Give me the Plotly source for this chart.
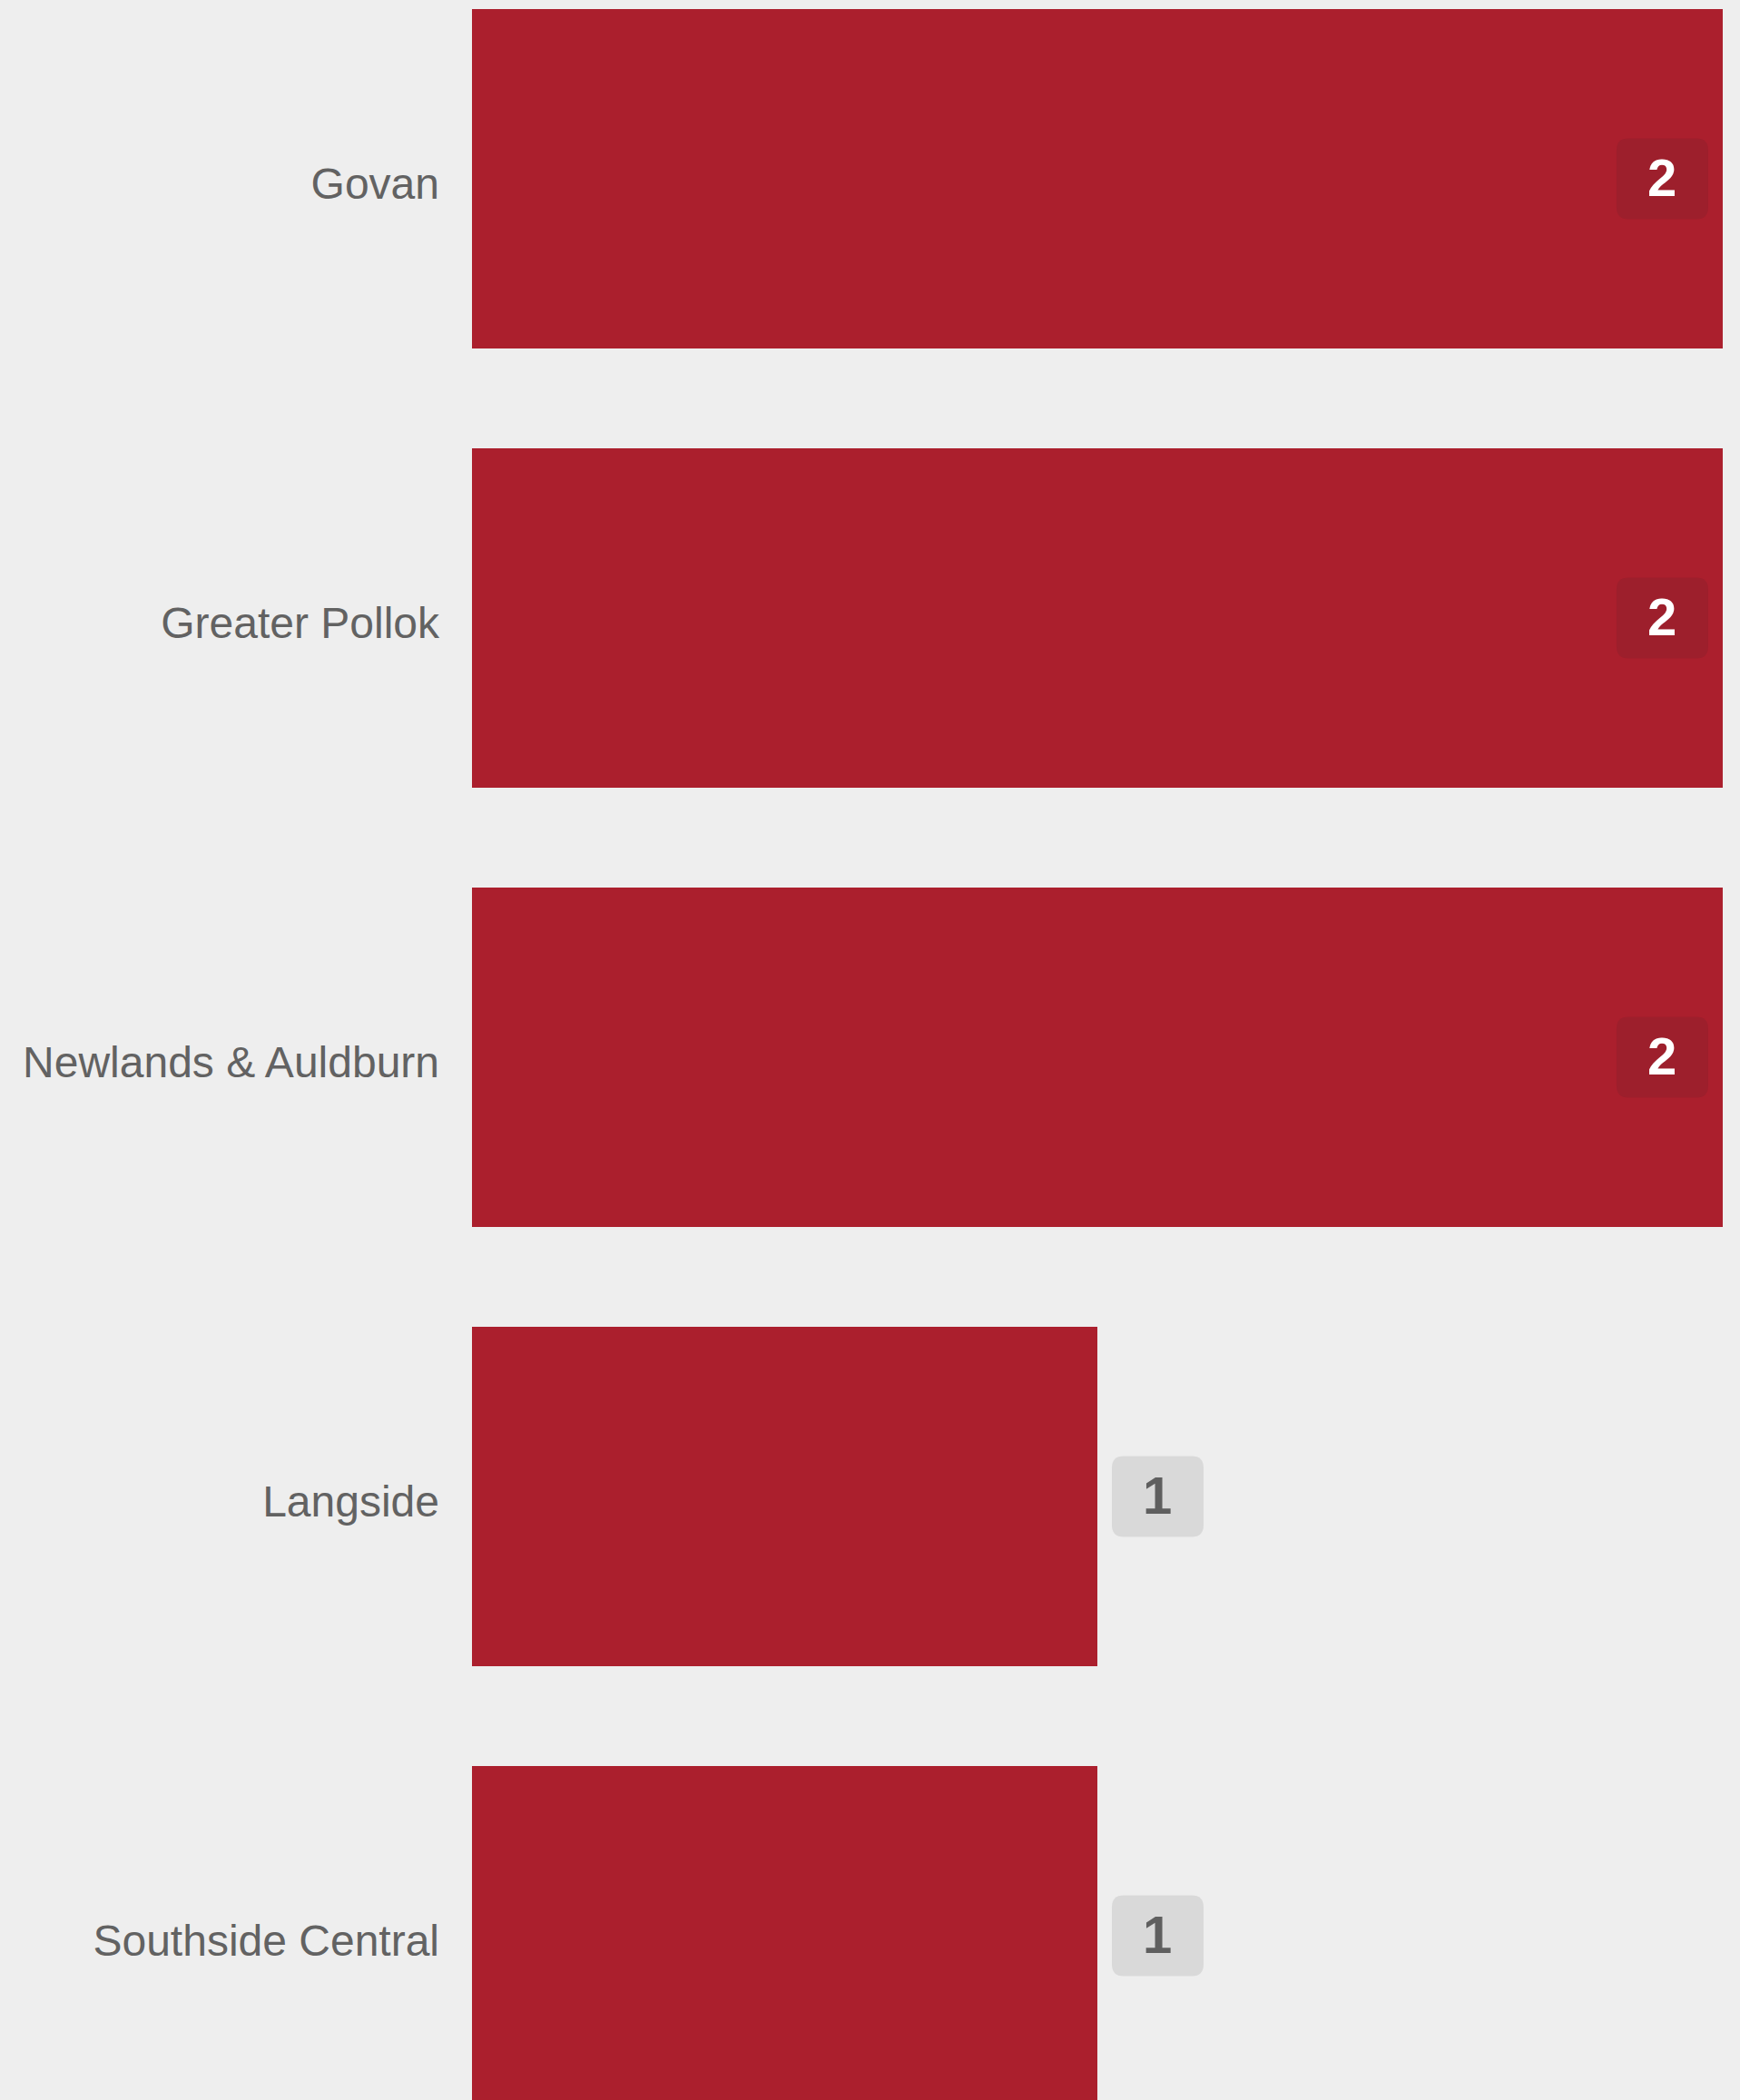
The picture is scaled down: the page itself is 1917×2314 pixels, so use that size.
import plotly.graph_objects as go

categories = ["Govan", "Greater Pollok", "Newlands & Auldburn", "Langside", "Southside Central"]
values = [2, 2, 2, 1, 1]
value_labels = ["2", "2", "2", "1", "1"]

BAR = "#ab1f2d"
BG = "#eeeeee"
INSIDE_BOX = "#9d1f2c"
OUTSIDE_BOX = "#d9d9d9"
max_v = max(values)
idx = list(range(len(categories)))

fig = go.Figure(go.Bar(
    x=values, y=idx, orientation="h",
    marker=dict(color=BAR, line=dict(width=0)),
    hoverinfo="skip",
))

def rounded_rect(x0, x1, y0, y1, r):
    return (f"M{x0+r},{y0} L{x1-r},{y0} Q{x1},{y0} {x1},{y0+r} "
            f"L{x1},{y1-r} Q{x1},{y1} {x1-r},{y1} L{x0+r},{y1} "
            f"Q{x0},{y1} {x0},{y1-r} L{x0},{y0+r} Q{x0},{y0} {x0+r},{y0} Z")

BW, BH, R, GAP = 101, 89, 13, 16
for i, (v, t) in enumerate(zip(values, value_labels)):
    inside = v == max_v
    if inside:
        x0, x1 = -GAP - BW, -GAP
    else:
        x0, x1 = GAP, GAP + BW
    fig.add_shape(type="path", xref="x", yref="y",
                  xsizemode="pixel", ysizemode="pixel",
                  xanchor=v, yanchor=i,
                  path=rounded_rect(x0, x1, -BH / 2, BH / 2, R),
                  fillcolor=INSIDE_BOX if inside else OUTSIDE_BOX,
                  line=dict(width=0), layer="above")
    fig.add_annotation(x=v, y=i, xref="x", yref="y", text=f"<b>{t}</b>",
                       showarrow=False, xshift=(x0 + x1) / 2, yshift=1,
                       font=dict(family="Arial Black, Liberation Sans, Arial", size=58,
                                 color="#ffffff" if inside else "#5f5f5f"))

fig.update_layout(
    width=1917, height=2314,
    margin=dict(l=520, r=0, t=0, b=0),
    paper_bgcolor=BG, plot_bgcolor=BG,
    bargap=0.227, showlegend=False,
    xaxis=dict(range=[0, 2.0276], visible=False, fixedrange=True),
    yaxis=dict(range=[4.374, -0.407], tickmode="array", tickvals=idx, ticktext=categories,
               showgrid=False, zeroline=False, showline=False, ticks="",
               ticklabelstandoff=35, ticklabelshift=-5,
               tickfont=dict(family="Arial, Liberation Sans", size=48, color="#626262")),
)

fig.write_html("out.html", config={"displayModeBar": False},
               post_script="document.body.style.margin='0';document.body.style.overflow='hidden';")
